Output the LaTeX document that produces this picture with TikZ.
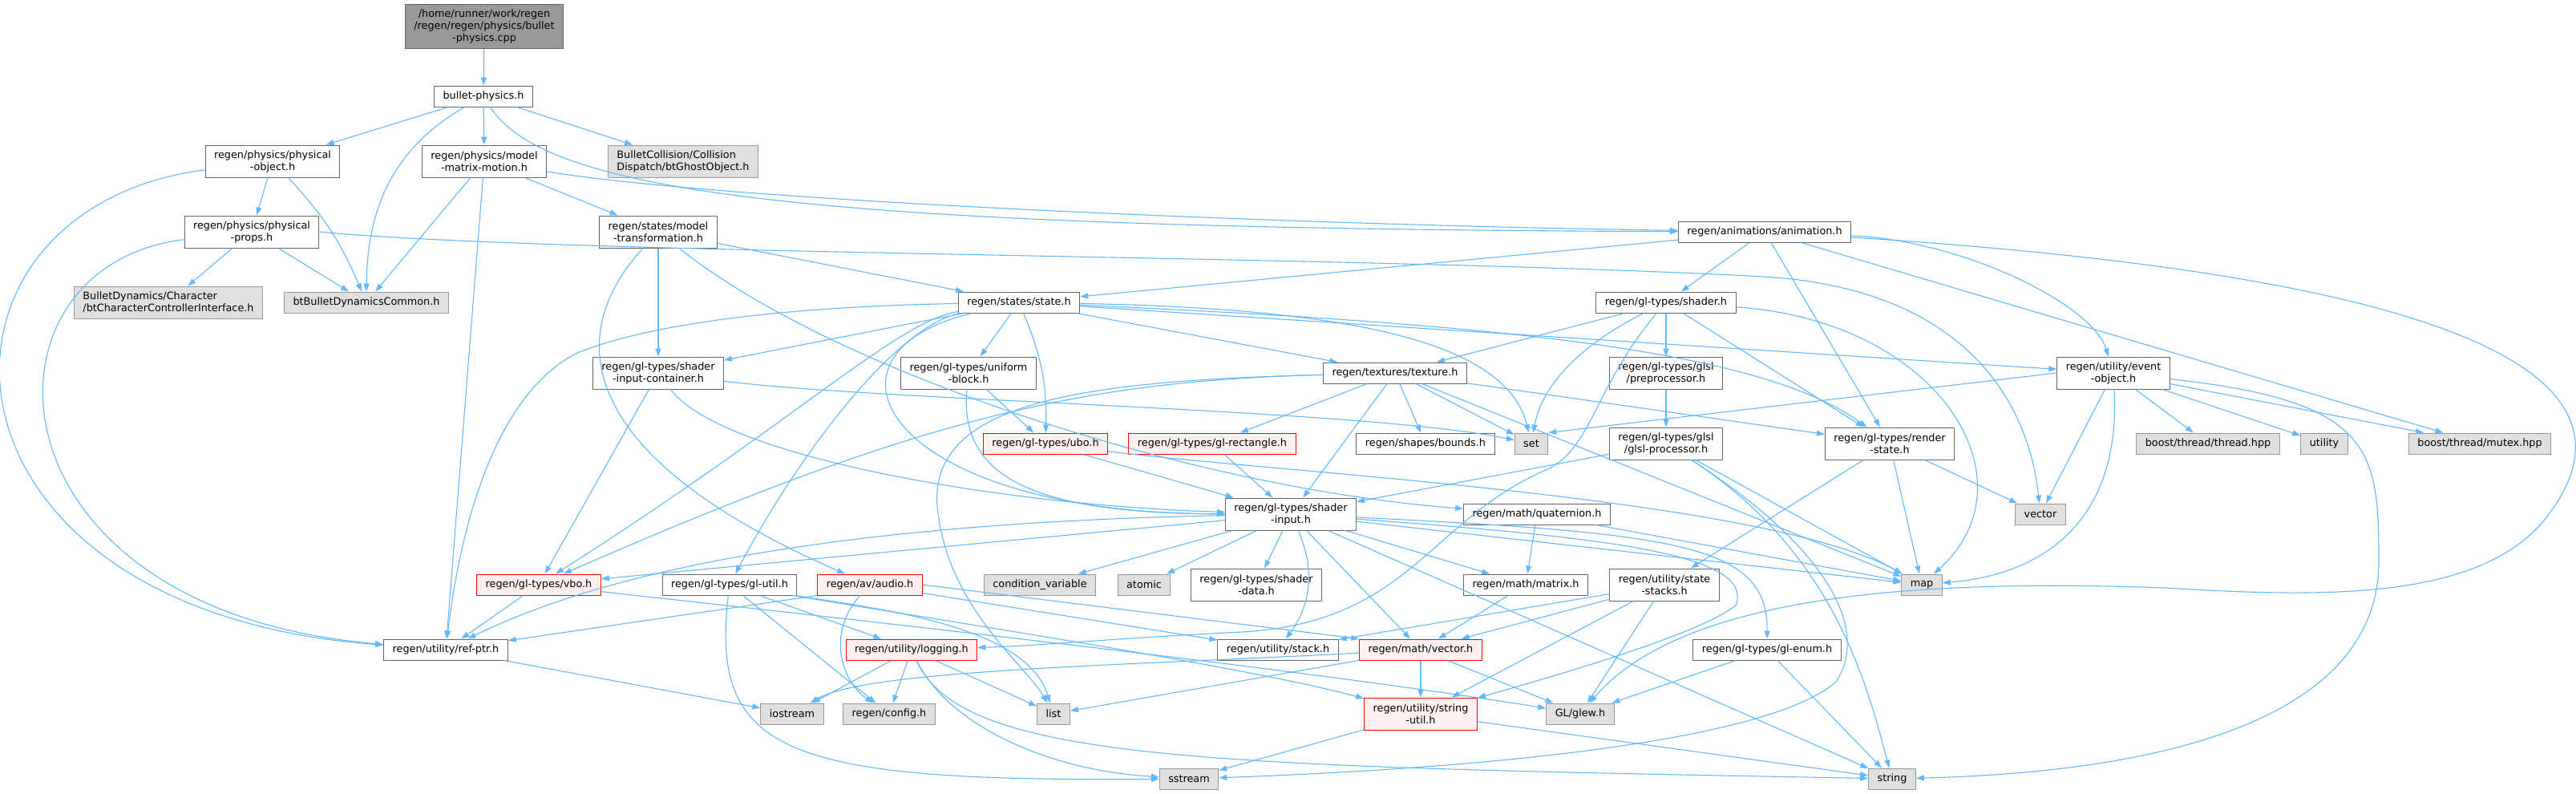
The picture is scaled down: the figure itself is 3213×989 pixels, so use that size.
\documentclass[tikz,border=0pt]{standalone}
\usepackage{fontspec}
\setmainfont{DejaVu Sans}
\usetikzlibrary{arrows.meta}

\definecolor{edgeblue}{RGB}{99,184,255}
\definecolor{boxline}{RGB}{102,102,102}
\definecolor{extfill}{RGB}{224,224,224}
\definecolor{extline}{RGB}{153,153,153}
\definecolor{truncfill}{RGB}{255,240,240}
\definecolor{mainfill}{RGB}{153,153,153}

\tikzset{
  file/.style={draw=boxline, line width=1pt, fill=white, inner xsep=11pt, inner ysep=6pt,
    minimum height=26pt, align=center, font=\fontsize{12.8pt}{15pt}\selectfont},
  tall/.style={minimum height=40pt},
  ext/.style={file, draw=extline, fill=extfill},
  trunc/.style={file, draw=red, fill=truncfill},
  mainfile/.style={file, fill=mainfill, minimum height=55pt},
  dep/.style={draw=edgeblue, line width=1.1pt, -{Triangle[length=10pt,width=7pt]}},
}

\begin{document}
\begin{tikzpicture}[x=1pt, y=-1pt]
\useasboundingbox (0,0) rectangle (3213,989);

% files, rank by rank
\node[mainfile] (cpp) at (604,33) {/home/runner/work/regen\\/regen/regen/physics/bullet\\-physics.cpp};
\node[file] (bullet) at (603,120) {bullet-physics.h};
\node[file, tall] (physobj) at (340,201) {regen/physics/physical\\-object.h};
\node[file, tall] (motion) at (604,201) {regen/physics/model\\-matrix-motion.h};
\node[ext, tall, align=left] (ghost) at (852,201) {BulletCollision/Collision\\Dispatch/btGhostObject.h};
\node[file, tall] (props) at (314,289) {regen/physics/physical\\-props.h};
\node[file, tall] (modeltf) at (821,289) {regen/states/model\\-transformation.h};
\node[file] (anim) at (2201,289) {regen/animations/animation.h};
\node[ext, tall, align=left] (charctrl) at (210,377) {BulletDynamics/Character\\/btCharacterControllerInterface.h};
\node[ext] (btcommon) at (457,377) {btBulletDynamicsCommon.h};
\node[file] (state) at (1271,377) {regen/states/state.h};
\node[file] (shader) at (2078,377) {regen/gl-types/shader.h};
\node[file, tall] (container) at (821,465) {regen/gl-types/shader\\-input-container.h};
\node[file, tall] (ublock) at (1208,465) {regen/gl-types/uniform\\-block.h};
\node[file] (texture) at (1740,465) {regen/textures/texture.h};
\node[file, tall] (preproc) at (2078,465) {regen/gl-types/glsl\\/preprocessor.h};
\node[file, tall] (event) at (2636,465) {regen/utility/event\\-object.h};
\node[trunc] (ubo) at (1304,553) {regen/gl-types/ubo.h};
\node[trunc] (glrect) at (1512,553) {regen/gl-types/gl-rectangle.h};
\node[file] (bounds) at (1778,553) {regen/shapes/bounds.h};
\node[ext] (set) at (1910,553) {set};
\node[file, tall] (glslproc) at (2078,553) {regen/gl-types/glsl\\/glsl-processor.h};
\node[file, tall] (rstate) at (2357,553) {regen/gl-types/render\\-state.h};
\node[ext] (thread) at (2754,553) {boost/thread/thread.hpp};
\node[ext] (utility) at (2899,553) {utility};
\node[ext] (mutex) at (3093,553) {boost/thread/mutex.hpp};
\node[file, tall] (sinput) at (1610,641) {regen/gl-types/shader\\-input.h};
\node[file] (quat) at (1917,641) {regen/math/quaternion.h};
\node[ext] (vector) at (2545,641) {vector};
\node[trunc] (vbo) at (672,729) {regen/gl-types/vbo.h};
\node[file] (glutil) at (910,729) {regen/gl-types/gl-util.h};
\node[trunc] (audio) at (1085,729) {regen/av/audio.h};
\node[ext] (condvar) at (1297,729) {condition\_variable};
\node[ext] (atomic) at (1427,729) {atomic};
\node[file, tall] (sdata) at (1567,729) {regen/gl-types/shader\\-data.h};
\node[file] (matrix) at (1903,729) {regen/math/matrix.h};
\node[file, tall] (stacks) at (2076,729) {regen/utility/state\\-stacks.h};
\node[ext] (map) at (2397,729) {map};
\node[file] (refptr) at (556,810) {regen/utility/ref-ptr.h};
\node[trunc] (logging) at (1137,810) {regen/utility/logging.h};
\node[file] (stack) at (1594,810) {regen/utility/stack.h};
\node[trunc] (vec) at (1772,810) {regen/math/vector.h};
\node[file] (glenum) at (2204,810) {regen/gl-types/gl-enum.h};
\node[ext] (iostream) at (988,890) {iostream};
\node[ext] (config) at (1109,890) {regen/config.h};
\node[ext] (list) at (1314,890) {list};
\node[trunc, tall] (strutil) at (1772,890) {regen/utility/string\\-util.h};
\node[ext] (glew) at (1971,890) {GL/glew.h};
\node[ext] (sstream) at (1483,971) {sstream};
\node[ext] (string) at (2360,971) {string};

% bullet physics part
\draw[dep] (cpp) -- (bullet);
\draw[dep] (bullet) -- (physobj);
\draw[dep] (bullet) .. controls (490,185) and (458,260) .. (btcommon);
\draw[dep] (bullet) -- (motion);
\draw[dep] (bullet) -- (ghost);
\draw[dep] (bullet) .. controls (680,240) and (1000,285) .. (anim);
\draw[dep] (physobj) -- (props);
\draw[dep] (physobj) to[bend left=10] (btcommon);
\draw[dep] (physobj) .. controls (-120,260) and (-110,760) .. (refptr);
\draw[dep] (props) -- (charctrl);
\draw[dep] (props) -- (btcommon);
\draw[dep] (props) .. controls (-40,330) and (-30,760) .. (refptr);
\draw[dep] (props.east) .. controls (700,318) and (1700,318) .. (2200,345)
  .. controls (2450,360) and (2530,500) .. (vector);
\draw[dep] (motion) -- (btcommon);
\draw[dep] (motion) -- (refptr);
\draw[dep] (motion) -- (modeltf);
\draw[dep] (motion) .. controls (900,250) and (1600,280) .. (anim);
\draw[dep] (modeltf) -- (container);
\draw[dep] (modeltf) -- (state);
\draw[dep] (modeltf) .. controls (700,420) and (720,570) .. (audio);
\draw[dep] (modeltf) .. controls (1050,470) and (1500,610) .. (quat);

% animation
\draw[dep] (anim) -- (state);
\draw[dep] (anim) -- (shader);
\draw[dep] (anim) -- (rstate);
\draw[dep] (anim) .. controls (2450,300) and (2610,380) .. (event);
\draw[dep] (anim) -- (mutex);
\draw[dep] (anim) .. controls (3000,340) and (3320,450) .. (3180,640)
  .. controls (3100,750) and (2900,745) .. (2700,733)
  .. controls (2400,722) and (2100,740) .. (glew);

% state
\draw[dep] (state) .. controls (1000,382) and (820,400) .. (720,440)
  .. controls (620,490) and (575,650) .. (refptr);
\draw[dep] (state) -- (container);
\draw[dep] (state) -- (ublock);
\draw[dep] (state) to[bend left=12] (ubo);
\draw[dep] (state) -- (texture);
\draw[dep] (state) .. controls (1700,385) and (1880,430) .. (set);
\draw[dep] (state) .. controls (1900,405) and (2200,440) .. (rstate);
\draw[dep] (state) -- (event);
\draw[dep] (state) .. controls (1000,440) and (1100,640) .. (sinput);
\draw[dep] (state) .. controls (1120,400) and (1000,520) .. (vbo);
\draw[dep] (state) .. controls (1120,405) and (1000,560) .. (glutil);

% shader
\draw[dep] (shader) -- (texture);
\draw[dep] (shader) -- (preproc);
\draw[dep] (shader) .. controls (1990,420) and (1925,470) .. (set);
\draw[dep] (shader) -- (rstate);
\draw[dep] (shader) .. controls (1990,480) and (1985,560) .. (1930,585)
  .. controls (1780,650) and (1760,775) .. (1550,788)
  .. controls (1400,795) and (1300,805) .. (logging);
\draw[dep] (shader) .. controls (2420,400) and (2540,600) .. (map);
\draw[dep] (preproc) -- (glslproc);
\draw[dep] (glslproc) -- (sinput);
\draw[dep] (glslproc) -- (map);
\draw[dep] (glslproc) .. controls (2290,690) and (2330,860) .. (string);
\draw[dep] (glslproc) .. controls (2290,690) and (2330,790) .. (2290,850)
  .. controls (2200,930) and (1800,960) .. (sstream);
\draw[dep] (rstate) -- (stacks);
\draw[dep] (rstate) -- (map);
\draw[dep] (rstate) -- (vector);

% event object
\draw[dep] (event.west) -- (set.north east);
\draw[dep] (event) -- (vector);
\draw[dep] (event) .. controls (2645,640) and (2560,715) .. (map);
\draw[dep] (event) -- (thread);
\draw[dep] (event) -- (utility);
\draw[dep] (event) -- (mutex);
\draw[dep] (event) .. controls (2960,500) and (2967,560) .. (2967,700)
  .. controls (2967,930) and (2600,965) .. (string);

% texture
\draw[dep] (texture) -- (glrect);
\draw[dep] (texture) -- (sinput);
\draw[dep] (texture) -- (bounds);
\draw[dep] (texture) -- (set);
\draw[dep] (texture) -- (rstate);
\draw[dep] (texture) -- (map);
\draw[dep] (texture) .. controls (1350,475) and (1150,520) .. (vbo);
\draw[dep] (texture) .. controls (1350,475) and (1150,500) .. (1170,640)
  .. controls (1185,760) and (1280,830) .. (list);

% uniform blocks, container
\draw[dep] (container) -- (vbo);
\draw[dep] (container) .. controls (900,570) and (1250,630) .. (sinput);
\draw[dep] (container) .. controls (1100,500) and (1700,510) .. (set);
\draw[dep] (ublock) -- (ubo);
\draw[dep] (ublock) .. controls (1195,600) and (1300,640) .. (sinput);
\draw[dep] (ubo) -- (sinput);
\draw[dep] (ubo) .. controls (1600,590) and (2200,620) .. (map);
\draw[dep] (glrect) -- (sinput);

% shader input
\draw[dep] (sinput) -- (vbo);
\draw[dep] (sinput) .. controls (1150,650) and (800,690) .. (refptr);
\draw[dep] (sinput) -- (condvar);
\draw[dep] (sinput) -- (atomic);
\draw[dep] (sinput) -- (sdata);
\draw[dep] (sinput) -- (matrix);
\draw[dep] (sinput) -- (vec);
\draw[dep] (sinput) to[bend left=30] (stack);
\draw[dep] (sinput) -- (map);
\draw[dep] (sinput) .. controls (2100,665) and (2205,680) .. (glenum);
\draw[dep] (sinput) .. controls (2000,670) and (2190,690) .. (2165,755)
  .. controls (2120,790) and (1950,840) .. (strutil);
\draw[dep] (sinput) -- (string);
\draw[dep] (quat) -- (matrix);
\draw[dep] (quat) -- (map);
\draw[dep] (matrix) -- (vec);
\draw[dep] (stacks) -- (stack);
\draw[dep] (stacks) -- (vec);
\draw[dep] (stacks) -- (strutil);
\draw[dep] (stacks) -- (glew);

% lower part
\draw[dep] (vbo) -- (refptr);
\draw[dep] (vbo) .. controls (950,760) and (1600,830) .. (glew);
\draw[dep] (glutil) -- (logging);
\draw[dep] (glutil) -- (config);
\draw[dep] (glutil) .. controls (885,940) and (980,975) .. (sstream);
\draw[dep] (glutil) .. controls (1100,760) and (1280,780) .. (list);
\draw[dep] (glutil) .. controls (1150,770) and (1550,830) .. (strutil);
\draw[dep] (audio.south west) -- (refptr);
\draw[dep] (audio) .. controls (1030,790) and (1050,850) .. (config);
\draw[dep] (audio) -- (stack);
\draw[dep] (audio.east) -- (vec.north west);
\draw[dep] (logging) -- (iostream);
\draw[dep] (logging) -- (config);
\draw[dep] (logging) -- (list);
\draw[dep] (logging) .. controls (1180,900) and (1300,960) .. (sstream);
\draw[dep] (logging) .. controls (1200,950) and (1500,955) .. (string);
\draw[dep] (vec) -- (strutil);
\draw[dep] (vec) -- (glew);
\draw[dep] (vec) -- (list);
\draw[dep] (vec) .. controls (1400,830) and (1080,835) .. (iostream);
\draw[dep] (strutil) -- (sstream);
\draw[dep] (strutil) -- (string);
\draw[dep] (glenum) -- (glew);
\draw[dep] (glenum) -- (string);
\draw[dep] (refptr) -- (iostream);
\end{tikzpicture}
\end{document}
